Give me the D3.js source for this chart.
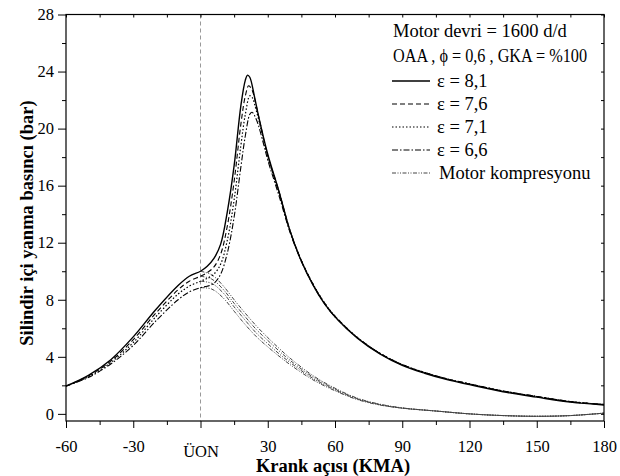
<!DOCTYPE html>
<html lang="tr">
  <head>
    <meta charset="UTF-8" />
    <title>Silindir basıncı</title>
    <style>
      body {
        margin: 0;
        background: #fff;
        font-family: 'Liberation Serif', 'Times New Roman', serif;
      }
      .tick text {
        font-size: 16.5px;
        font-family: 'Liberation Serif', serif;
      }
      .axis-title {
        font-size: 18.5px;
        font-weight: bold;
      }
      .legend text {
        font-size: 18.5px;
      }
    </style>
  </head>
  <body>
    <script src="https://d3js.org/d3.v7.min.js"></script>
    <script>
      // firing pressure curves, [crank angle, bar]
      const e81 = [[-60,1.95],[-50,2.7],[-40,3.8],[-30,5.4],[-20,7.3],[-10,9.0],[-5,9.65],[0,10.0],[3,10.35],[6,10.9],[9,11.9],[12,14.2],[15,17.4],[18,21.6],[20,23.4],[21,23.75],[22,23.6],[24,22.3],[26,20.8],[30,18.2],[35,15.6],[40,12.8],[45,10.7],[50,9.1],[55,7.8],[60,6.8],[70,5.3],[80,4.2],[90,3.4],[100,2.85],[110,2.4],[120,2.05],[135,1.55],[150,1.17],[165,0.82],[180,0.62]];
      const e76 = [[-60,1.95],[-50,2.65],[-40,3.7],[-30,5.2],[-20,7.05],[-10,8.7],[-5,9.3],[0,9.65],[3,9.9],[6,10.3],[9,11.2],[12,13.2],[15,16.3],[18,20.3],[20,22.3],[21.5,23.0],[23,22.7],[25,21.5],[27,20.1],[30,18.1],[35,15.6],[40,12.8],[45,10.75],[50,9.15],[55,7.85],[60,6.85],[70,5.35],[80,4.25],[90,3.45],[100,2.9],[110,2.45],[120,2.1],[135,1.6],[150,1.22],[165,0.86],[180,0.65]];
      const e71 = [[-60,1.95],[-50,2.6],[-40,3.6],[-30,5.0],[-20,6.8],[-10,8.4],[-5,8.95],[0,9.3],[3,9.5],[6,9.8],[9,10.5],[12,12.2],[15,15.0],[18,18.8],[20,21.0],[22,22.3],[23,22.2],[25,21.2],[28,19.3],[30,18.0],[35,15.5],[40,12.8],[45,10.75],[50,9.15],[55,7.85],[60,6.85],[70,5.35],[80,4.25],[90,3.45],[100,2.9],[110,2.45],[120,2.1],[135,1.6],[150,1.22],[165,0.86],[180,0.66]];
      const e66 = [[-60,1.95],[-50,2.55],[-40,3.5],[-30,4.8],[-20,6.5],[-10,8.0],[-5,8.55],[0,8.85],[3,8.95],[6,9.15],[9,9.8],[12,11.3],[15,13.8],[18,17.3],[20,19.5],[22,21.0],[23,21.15],[25,20.6],[28,19.0],[30,17.8],[35,15.3],[40,12.7],[45,10.7],[50,9.1],[55,7.8],[60,6.8],[70,5.35],[80,4.25],[90,3.45],[100,2.9],[110,2.45],[120,2.1],[135,1.6],[150,1.22],[165,0.86],[180,0.66]];

      // motoring (no combustion) curves after TDC
      const m81 = [[0,10.0],[5,9.75],[10,9.0],[15,8.0],[20,7.05],[25,6.15],[30,5.35],[35,4.6],[40,3.9],[50,2.7],[60,1.8],[70,1.1],[80,0.68],[90,0.42],[105,0.2],[120,0.0],[135,-0.12],[150,-0.17],[165,-0.12],[180,0.05]];
      const m76 = [[0,9.65],[5,9.45],[10,8.75],[15,7.75],[20,6.8],[25,5.9],[30,5.15],[35,4.42],[40,3.75],[50,2.6],[60,1.74],[70,1.07],[80,0.66],[90,0.41],[105,0.2],[120,0.0],[135,-0.12],[150,-0.17],[165,-0.12],[180,0.05]];
      const m71 = [[0,9.3],[5,9.15],[10,8.5],[15,7.5],[20,6.55],[25,5.65],[30,4.92],[35,4.22],[40,3.6],[50,2.5],[60,1.68],[70,1.04],[80,0.64],[90,0.4],[105,0.2],[120,0.0],[135,-0.12],[150,-0.17],[165,-0.12],[180,0.05]];
      const m66 = [[0,8.85],[5,8.75],[10,8.15],[15,7.2],[20,6.25],[25,5.4],[30,4.7],[35,4.05],[40,3.45],[50,2.4],[60,1.62],[70,1.0],[80,0.62],[90,0.4],[105,0.2],[120,0.0],[135,-0.12],[150,-0.17],[165,-0.12],[180,0.05]];

      const xTicks = [-60, -30, 0, 30, 60, 90, 120, 150, 180];
      const xTickLabels = ['-60', '-30', 'ÜON', '30', '60', '90', '120', '150', '180'];
      const yTicks = [0, 4, 8, 12, 16, 20, 24, 28];
      const legendHeader = ['Motor devri = 1600 d/d', 'OAA , \u03d5 = 0,6 , GKA = %100'];
      const legendLabels = ['\u03b5  = 8,1', '\u03b5  = 7,6', '\u03b5  = 7,1', '\u03b5  = 6,6', 'Motor kompresyonu'];

      const width = 620;
      const height = 476;
      const margin = { top: 14.5, right: 16, bottom: 55, left: 66 };

      const svg = d3.select('body').append('svg').attr('width', width).attr('height', height);

      const x = d3.scaleLinear().domain([-60, 180]).range([margin.left, width - margin.right]);
      const y = d3.scaleLinear().domain([-0.5, 28]).range([height - margin.bottom, margin.top]);

      // TDC reference line
      svg.append('line')
        .attr('x1', x(0)).attr('x2', x(0))
        .attr('y1', y(28)).attr('y2', y(-0.5))
        .attr('stroke', '#999').attr('stroke-width', 1).attr('stroke-dasharray', '4,3');

      const line = d3.line()
        .x((d) => x(d[0]))
        .y((d) => y(d[1]))
        .curve(d3.curveCatmullRom.alpha(0.5));

      const motorStyle = { dash: '4,1.5,1,1.5,1,1.5', color: '#444', w: 1 };
      const series = [
        { data: m81, ...motorStyle },
        { data: m76, ...motorStyle },
        { data: m71, ...motorStyle },
        { data: m66, ...motorStyle },
        { data: e66, dash: '6,2,1.5,2', color: '#000', w: 1.1 },
        { data: e71, dash: '1.5,2', color: '#000', w: 1.2 },
        { data: e76, dash: '5,3', color: '#000', w: 1.1 },
        { data: e81, dash: null, color: '#000', w: 1.4 }
      ];

      svg.append('g').selectAll('path').data(series).join('path')
        .attr('d', (s) => line(s.data))
        .attr('fill', 'none')
        .attr('stroke', (s) => s.color)
        .attr('stroke-width', (s) => s.w)
        .attr('stroke-dasharray', (s) => s.dash);

      // axes
      const minorX = d3.range(-60, 181, 15).filter((v) => v % 30 !== 0);
      const minorY = d3.range(0, 29, 2).filter((v) => v % 4 !== 0);

      const bottom = svg.append('g').attr('transform', `translate(0,${y(-0.5)})`)
        .call(d3.axisBottom(x).tickValues(xTicks).tickFormat((d, i) => xTickLabels[i]).tickSize(7).tickPadding(6).tickSizeOuter(0));
      bottom.selectAll('.tick text').attr('dy', null).attr('y', (d) => (d === 0 ? 36 : 30.5));
      svg.append('g').attr('transform', `translate(0,${y(-0.5)})`)
        .call(d3.axisBottom(x).tickValues(minorX).tickFormat('').tickSize(4).tickSizeOuter(0));

      svg.append('g').attr('transform', `translate(${margin.left},0)`)
        .call(d3.axisLeft(y).tickValues(yTicks).tickSize(8).tickPadding(4).tickSizeOuter(0));
      svg.append('g').attr('transform', `translate(${margin.left},0)`)
        .call(d3.axisLeft(y).tickValues(minorY).tickFormat('').tickSize(4).tickSizeOuter(0));

      // mirrored ticks, inward
      svg.append('g').attr('transform', `translate(0,${margin.top})`)
        .call(d3.axisBottom(x).tickValues(d3.range(-60, 181, 15)).tickFormat('').tickSize(3).tickSizeOuter(0));
      svg.append('g').attr('transform', `translate(${width - margin.right},0)`)
        .call(d3.axisLeft(y).tickValues(d3.range(0, 29, 2)).tickFormat('').tickSize(3).tickSizeOuter(0));

      svg.selectAll('.domain').remove();
      svg.selectAll('.tick line').attr('stroke', '#000');
      svg.selectAll('.tick text').attr('fill', '#000');

      svg.append('rect')
        .attr('x', margin.left).attr('y', margin.top)
        .attr('width', width - margin.right - margin.left)
        .attr('height', y(-0.5) - margin.top)
        .attr('fill', 'none').attr('stroke', '#000').attr('stroke-width', 1.2);

      // titles
      svg.append('text').attr('class', 'axis-title')
        .attr('x', 333).attr('y', 471.5)
        .attr('text-anchor', 'middle').text('Krank açısı (KMA)');
      svg.append('text').attr('class', 'axis-title')
        .attr('transform', 'translate(33,223) rotate(-90)')
        .attr('text-anchor', 'middle').text('Silindir içi yanma basıncı (bar)');

      // legend
      const legend = svg.append('g').attr('class', 'legend');
      legend.selectAll('text.h').data(legendHeader).join('text').attr('class', 'h')
        .attr('x', 393).attr('y', (d, i) => 37 + i * 24.5)
        .attr('textLength', (d, i) => (i === 1 ? 194 : null))
        .attr('lengthAdjust', 'spacingAndGlyphs')
        .text((d) => d);
      const items = series.slice(4).reverse().concat([series[0]]);
      legendLabels.forEach((lab, i) => {
        const cy = 81 + i * 23;
        const s = items[i];
        legend.append('line')
          .attr('x1', 392).attr('x2', 430).attr('y1', cy).attr('y2', cy)
          .attr('stroke', s.color).attr('stroke-width', s.w).attr('stroke-dasharray', s.dash);
        legend.append('text').attr('x', i === 4 ? 439 : 437).attr('y', cy + 5.5).text(lab);
      });
    </script>
  </body>
</html>
